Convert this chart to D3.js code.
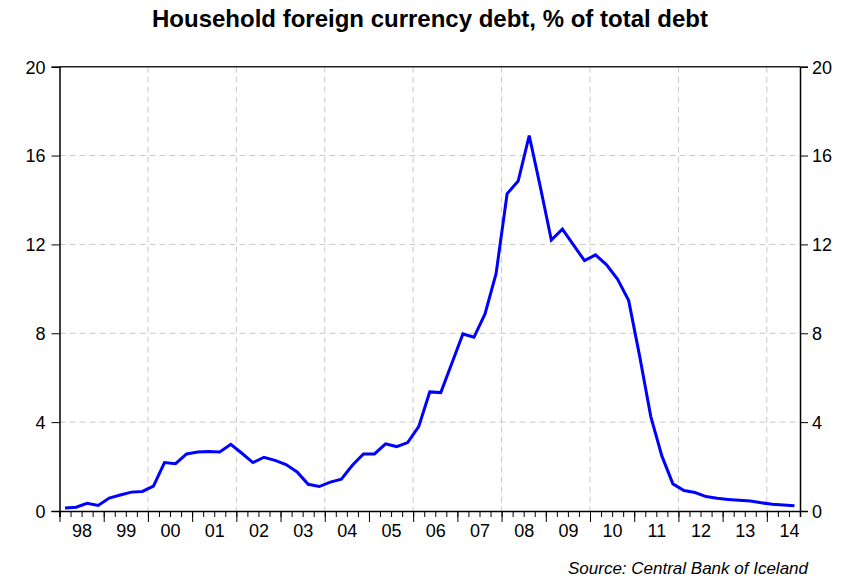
<!DOCTYPE html>
<html>
<head>
<meta charset="utf-8">
<script src="https://cdn.jsdelivr.net/npm/d3@7"></script>
<style>
  html, body { margin: 0; padding: 0; background: #fff; }
  svg { display: block; font-family: "Liberation Sans", Arial, sans-serif; }
</style>
</head>
<body>
<svg id="chart" width="844" height="577"></svg>
<script>
// Quarterly data, 1998Q1 .. 2014Q3
const startYear = 1998;
const values = [
  0.13, 0.17, 0.35, 0.25, 0.58, 0.72, 0.85, 0.88,   // 1998-1999
  1.12, 2.18, 2.13, 2.57, 2.66, 2.68, 2.66, 3.00,   // 2000-2001
  2.60, 2.18, 2.42, 2.28, 2.09, 1.76, 1.20, 1.10,   // 2002-2003
  1.30, 1.43, 2.06, 2.57, 2.57, 3.02, 2.90, 3.08,   // 2004-2005
  3.80, 5.36, 5.33, 6.65, 7.97, 7.82, 8.87, 10.68,  // 2006-2007
  14.28, 14.85, 16.90, 14.60, 12.20, 12.69, 11.98, 11.27, // 2008-2009
  11.53, 11.08, 10.43, 9.47, 6.95, 4.25, 2.48, 1.22, // 2010-2011
  0.92, 0.83, 0.65, 0.57, 0.52, 0.48, 0.45, 0.37,   // 2012-2013
  0.30, 0.27, 0.24                                  // 2014
];
const yTicks = [0, 4, 8, 12, 16, 20];
const gridYears = [2000, 2002, 2004, 2006, 2008, 2010, 2012, 2014];
const yearLabels = ["98","99","00","01","02","03","04","05","06","07","08","09","10","11","12","13","14"];
const titleText = "Household foreign currency debt, % of total debt";
const sourceText = "Source: Central Bank of Iceland";

const data = values.map((v, i) => ({ t: startYear + (i + 0.5) / 4, v }));

const svg = d3.select("#chart");
const L = 59.5, R = 800, T = 66.7, B = 511;

const x = d3.scaleLinear().domain([1998, 2014.75]).range([L, R]);
const y = d3.scaleLinear().domain([0, 20]).range([B, T]);

// Gridlines
svg.append("g").selectAll("line.hg").data(yTicks.filter(d => d > 0 && d < 20)).join("line")
  .attr("x1", L).attr("x2", R).attr("y1", d => y(d)).attr("y2", d => y(d))
  .attr("stroke", "#c8c8c8").attr("stroke-width", 1).attr("stroke-dasharray", "6,4");
svg.append("g").selectAll("line.vg").data(gridYears).join("line")
  .attr("x1", d => x(d)).attr("x2", d => x(d)).attr("y1", T).attr("y2", B)
  .attr("stroke", "#c8c8c8").attr("stroke-width", 1).attr("stroke-dasharray", "6,4");

// Top border
svg.append("line").attr("x1", L).attr("x2", R).attr("y1", y(20)).attr("y2", y(20))
  .attr("stroke", "#222").attr("stroke-width", 1.5);

// Y axes
const yL = svg.append("g").attr("transform", `translate(${L},0)`)
  .call(d3.axisLeft(y).tickValues(yTicks).tickSize(8).tickPadding(6).tickFormat(d3.format("d")));
const yR = svg.append("g").attr("transform", `translate(${R},0)`)
  .call(d3.axisRight(y).tickValues(yTicks).tickSize(8).tickPadding(4).tickFormat(d3.format("d")));
[yL, yR].forEach(g => {
  g.select(".domain").attr("stroke", "#000").attr("stroke-width", 1.5);
  g.selectAll(".tick line").attr("stroke", "#000");
  g.selectAll(".tick text").attr("font-size", 18).attr("fill", "#000").attr("dy", "0.35em")
    .attr("font-family", "Liberation Sans, Arial, sans-serif");
});

// X axis: minor quarterly ticks
const quarters = d3.range(0, 16.75 * 4 + 1).map(i => 1998 + i / 4);
const years = d3.range(1998, 2015);
const xMinor = svg.append("g").attr("transform", `translate(0,${B})`)
  .call(d3.axisBottom(x).tickValues(quarters).tickSize(6).tickFormat(""));
xMinor.select(".domain").attr("stroke", "#000").attr("stroke-width", 1.5);
xMinor.selectAll(".tick line").attr("stroke", "#000");
const xMajor = svg.append("g").attr("transform", `translate(0,${B})`)
  .call(d3.axisBottom(x).tickValues(years).tickSize(11).tickFormat(""));
xMajor.select(".domain").remove();
xMajor.selectAll(".tick line").attr("stroke", "#000");
const xLab = svg.append("g").attr("transform", `translate(0,${B})`)
  .call(d3.axisBottom(x).tickValues(years.map(d => d + 0.5)).tickSize(0).tickPadding(13)
    .tickFormat((d, i) => yearLabels[i]));
xLab.select(".domain").remove();
xLab.selectAll(".tick text").attr("font-size", 18).attr("fill", "#000")
  .attr("font-family", "Liberation Sans, Arial, sans-serif");

// Line
svg.append("path").datum(data)
  .attr("fill", "none").attr("stroke", "#0000ff").attr("stroke-width", 3)
  .attr("stroke-linejoin", "miter")
  .attr("d", d3.line().x(d => x(d.t)).y(d => y(d.v)));

// Title
svg.append("text").attr("x", 430).attr("y", 27).attr("text-anchor", "middle")
  .attr("font-size", 24).attr("font-weight", "bold").attr("fill", "#000")
  .text(titleText);

// Source
svg.append("text").attr("x", 808).attr("y", 574).attr("text-anchor", "end")
  .attr("font-size", 17).attr("font-style", "italic").attr("fill", "#000")
  .text(sourceText);
</script>
</body>
</html>
